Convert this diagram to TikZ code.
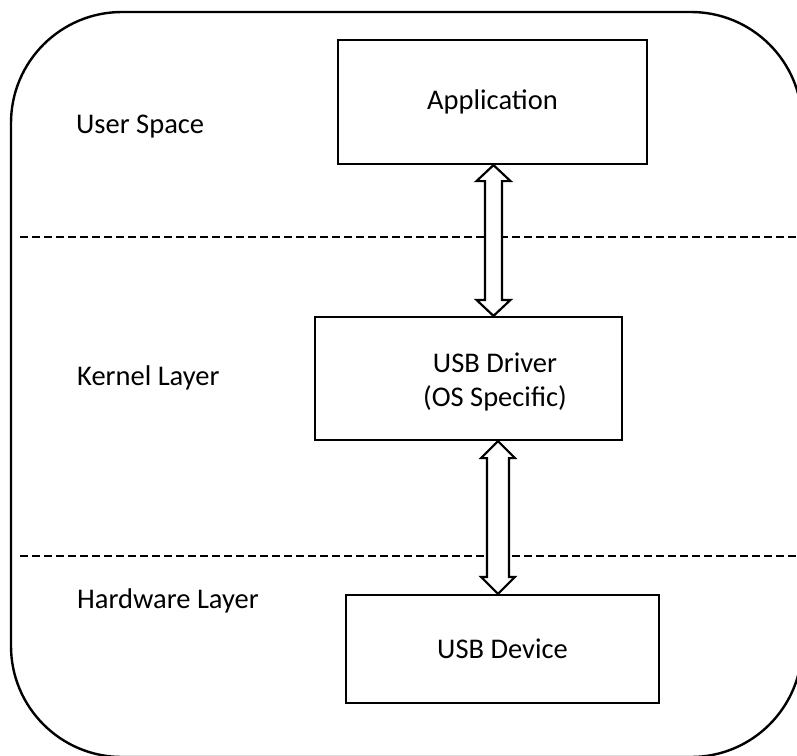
\documentclass[tikz,border=0pt]{standalone}
\usepackage{fontspec}
\setmainfont{Carlito}
\usetikzlibrary{calc}

\tikzset{
  frame/.style={line width=2.4pt, rounded corners=111pt},
  layerbox/.style={draw, line width=2.2pt, inner sep=0pt, align=center,
    font=\fontsize{28.5}{34}\selectfont},
  boxtext/.style={inner sep=0pt, align=center,
    font=\fontsize{28.5}{34}\selectfont},
  layerlabel/.style={anchor=base west, inner sep=0pt,
    font=\fontsize{28.5}{34}\selectfont},
  divider/.style={line width=1.3pt, dash pattern=on 8pt off 4pt},
  arrowline/.style={line width=2.2pt, line join=miter, fill=white}
}

% hollow two-headed vertical arrow: #1 top tip, #2 bottom tip,
% #3 half shaft width, #4 head length, #5 half head width
\newcommand{\twowayarrow}[5]{%
  \draw[arrowline] (#1) -- ($(#1)+(#5,#4)$) -- ($(#1)+(#3,#4)$)
    -- ($(#2)+(#3,-#4)$) -- ($(#2)+(#5,-#4)$) -- (#2)
    -- ($(#2)+(-#5,-#4)$) -- ($(#2)+(-#3,-#4)$)
    -- ($(#1)+(-#3,#4)$) -- ($(#1)+(-#5,#4)$) -- cycle;}

\begin{document}
\begin{tikzpicture}[x=1pt, y=-1pt]
  \useasboundingbox (0,0) rectangle (797,755);

  % outer container
  \draw[frame] (11,12) rectangle (802,757);

  % layer dividers
  \coordinate (d1l) at (20,237);
  \coordinate (d1r) at (797,237);
  \coordinate (d2l) at (20,556);
  \coordinate (d2r) at (797,556);
  \draw[divider] (d1l) -- (d1r);
  \draw[divider] (d2l) -- (d2r);

  % layer names
  \node[layerlabel] (user) at (76,133) {User Space};
  \node[layerlabel] (kern) at (77,385) {Kernel Layer};
  \node[layerlabel] (hw)   at (77,608) {Hardware Layer};

  % components
  \node[layerbox, minimum width=309pt, minimum height=124pt] (app) at (492.5,102) {Application};
  \node[layerbox, minimum width=307pt, minimum height=123pt] (drv) at (468.5,378.5) {};
  \node[boxtext] (drvtext) at (495,382) {USB Driver\\(OS Specific)};
  \node[layerbox, minimum width=313pt, minimum height=108pt] (dev) at (502.5,649) {USB Device};

  % connectors
  \coordinate (a1t) at ([xshift=1pt]app.south);
  \coordinate (a1b) at (a1t |- drv.north);
  \twowayarrow{a1t}{a1b}{8.5}{16}{17}

  \coordinate (a2b) at ([xshift=-4.5pt]dev.north);
  \coordinate (a2t) at (a2b |- drv.south);
  \twowayarrow{a2t}{a2b}{11}{17}{17}
\end{tikzpicture}
\end{document}
